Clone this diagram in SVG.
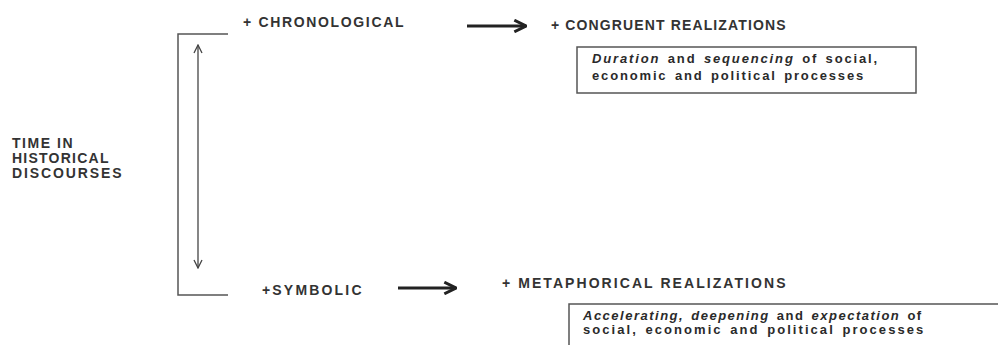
<svg xmlns="http://www.w3.org/2000/svg" width="998" height="345" viewBox="0 0 998 345">
<style>
.h{font-family:"Liberation Sans",Arial,sans-serif;font-weight:bold;font-size:14px;letter-spacing:1.5px;fill:#333}
.b{font-family:"Liberation Sans",Arial,sans-serif;font-weight:bold;font-size:13px;letter-spacing:1.8px;word-spacing:2px;fill:#2a2a2a}
.box{fill:#fff;stroke:#555;stroke-width:1.5}
.ln{fill:none;stroke:#555;stroke-width:1.5}
</style>
<defs>
<marker id="open" viewBox="0 0 10 10" refX="9" refY="5" markerWidth="10" markerHeight="10" markerUnits="userSpaceOnUse" orient="auto-start-reverse">
<path d="M1,1 L9,5 L1,9" fill="none" stroke="#444" stroke-width="1.3"/>
</marker>
<marker id="thick" viewBox="0 0 12 12" refX="11" refY="6" markerWidth="14" markerHeight="14" markerUnits="userSpaceOnUse" orient="auto">
<path d="M1,1 L11,6 L1,11" fill="none" stroke="#222" stroke-width="2.5"/>
</marker>
</defs>
<g id="bracket">
<path class="ln" d="M228,34 H178 V295 H228"/>
</g>
<g id="connectors">
<line x1="198" y1="268" x2="198" y2="45" stroke="#444" stroke-width="1.3" marker-start="url(#open)" marker-end="url(#open)"/>
<line x1="467" y1="26" x2="526" y2="26" stroke="#222" stroke-width="3" marker-end="url(#thick)"/>
<line x1="398" y1="288" x2="456" y2="288" stroke="#222" stroke-width="3" marker-end="url(#thick)"/>
</g>
<g id="time">
<text class="h" x="12" y="148" textLength="62" lengthAdjust="spacing">TIME IN</text>
<text class="h" x="12" y="163" textLength="98" lengthAdjust="spacing">HISTORICAL</text>
<text class="h" x="12" y="178" textLength="111" lengthAdjust="spacing">DISCOURSES</text>
</g>
<g id="chronological">
<text class="h" x="243" y="27" textLength="162" lengthAdjust="spacing">+ CHRONOLOGICAL</text>
</g>
<g id="symbolic">
<text class="h" x="262" y="295" textLength="101" lengthAdjust="spacing">+SYMBOLIC</text>
</g>
<g id="congruent">
<text class="h" x="551" y="30" textLength="236" lengthAdjust="spacing">+ CONGRUENT  REALIZATIONS</text>
<rect class="box" x="577" y="47" width="339" height="46"/>
<text class="b" x="592" y="63" textLength="287" lengthAdjust="spacing"><tspan font-style="italic">Duration</tspan> and <tspan font-style="italic">sequencing</tspan> of social,</text>
<text class="b" x="592" y="80" textLength="273" lengthAdjust="spacing">economic and political processes</text>
</g>
<g id="metaphorical">
<text class="h" x="502" y="288" textLength="285" lengthAdjust="spacing">+ METAPHORICAL  REALIZATIONS</text>
<rect class="box" x="569" y="304" width="440" height="50"/>
<text class="b" x="583" y="320" textLength="340" lengthAdjust="spacing"><tspan font-style="italic">Accelerating, deepening</tspan> and <tspan font-style="italic">expectation</tspan> of</text>
<text class="b" x="583" y="334" textLength="342" lengthAdjust="spacing">social, economic and political processes</text>
</g>
</svg>
